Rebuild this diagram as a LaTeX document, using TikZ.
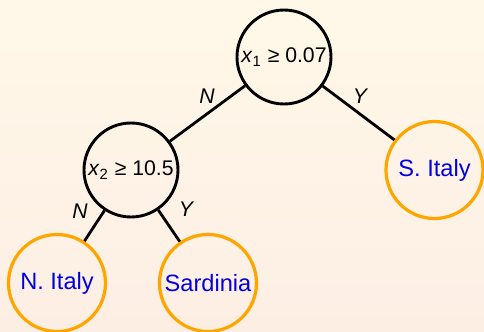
\documentclass[tikz,border=0pt]{standalone}
\usepackage{fontspec}
\setmainfont{Liberation Sans}
\definecolor{bgtop}{RGB}{255,248,232}
\definecolor{bgbot}{RGB}{253,238,228}
\definecolor{leafc}{RGB}{255,165,0}
\definecolor{leaft}{RGB}{0,0,225}
\begin{document}
\begin{tikzpicture}[x=0.5pt,y=-0.5pt,
  test/.style={circle,draw=black,line width=1.45pt,minimum size=47pt,inner sep=0pt,font=\fontsize{10.6}{12}\selectfont},
  leaf/.style={circle,draw=leafc,line width=1.6pt,minimum size=48.5pt,inner sep=0pt,text=leaft,font=\fontsize{11.8}{13}\selectfont},
  edge/.style={draw=black,line width=1.4pt},
  lab/.style={font=\fontsize{10.6}{12}\selectfont\itshape,inner sep=0pt}]
\shade[top color=bgtop,bottom color=bgbot] (0,0) rectangle (484,332);
\useasboundingbox (0,0) rectangle (484,332);
\node[test] (r) at (284,57) {\textit{x}\textsubscript{1} ≥ 0.07};
\node[test] (a) at (131,170) {\textit{x}\textsubscript{2} ≥ 10.5};
\node[leaf] (s) at (434.5,170) {S. Italy};
\node[leaf] (n) at (57,283) {N. Italy};
\node[leaf] (d) at (208,283) {Sardinia};
\path[edge] (r) -- (a);
\path[edge] (r) -- (s);
\path[edge] (a) -- (n);
\path[edge] (a) -- (d);
\node[lab] (l1) at (207,96) {N};
\node[lab] (l2) at (360,96) {Y};
\node[lab] (l3) at (80,211) {N};
\node[lab] (l4) at (186,209) {Y};
\end{tikzpicture}
\end{document}
